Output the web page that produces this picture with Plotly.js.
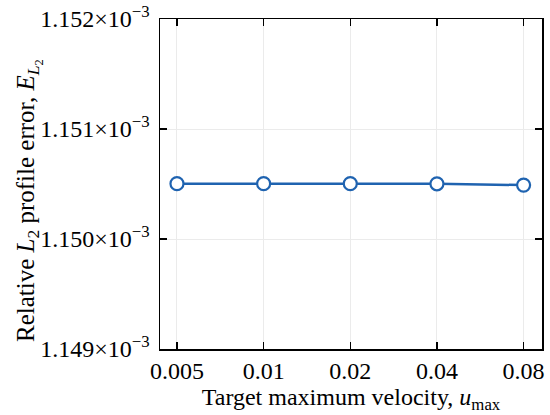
<!DOCTYPE html>
<html>
<head>
<meta charset="utf-8">
<script src="https://cdn.plot.ly/plotly-3.0.1.min.js"></script>
<style>html,body{margin:0;padding:0;background:#fff;}#chart{width:550px;height:415px;}</style>
</head>
<body>
<div id="chart"></div>
<script>
const velocities = [0.005, 0.01, 0.02, 0.04, 0.08];
const errors = [1.150503e-3, 1.150503e-3, 1.150503e-3, 1.150502e-3, 1.150490e-3];
const xTickLabels = ['0.005', '0.01', '0.02', '0.04', '0.08'];
const yTickVals = [1.149e-3, 1.150e-3, 1.151e-3, 1.152e-3];
const yTickLabels = ['1.149×10<sup>−3</sup>', '1.150×10<sup>−3</sup>', '1.151×10<sup>−3</sup>', '1.152×10<sup>−3</sup>'];
const xTitle = 'Target maximum velocity, <i>u</i><sub>max</sub>';
const yTitle = 'Relative <i>L</i><sub>2</sub> profile error, <i>E</i><sub><i>L</i><sub>2</sub></sub>';

const font = {family: 'Liberation Serif', size: 24, color: '#000'};
const yTitleFont = {family: 'Liberation Serif', size: 25, color: '#000'};

const trace = {
  x: velocities,
  y: errors,
  type: 'scatter',
  mode: 'lines+markers',
  line: {color: '#1f63b0', width: 2.5},
  marker: {size: 13, color: '#ffffff', line: {color: '#1f63b0', width: 2.2}},
  cliponaxis: false,
  hoverinfo: 'skip'
};

const axisCommon = {
  showline: true, linecolor: '#000', linewidth: 1.5, mirror: 'ticks',
  ticks: 'inside', ticklen: 7, tickwidth: 1.5, tickcolor: '#000',
  showgrid: true, gridcolor: '#ebebeb', gridwidth: 1,
  zeroline: false, tickfont: font
};

const layout = {
  width: 550, height: 415,
  margin: {l: 160, r: 8, t: 19, b: 66},
  paper_bgcolor: '#fff', plot_bgcolor: '#fff',
  showlegend: false,
  font: font,
  xaxis: Object.assign({}, axisCommon, {
    type: 'log',
    range: [-2.360, -1.033],
    tickvals: velocities,
    ticktext: xTickLabels,
    title: {text: xTitle, font: font, standoff: 4}
  }),
  yaxis: Object.assign({}, axisCommon, {
    range: [1.149e-3, 1.152e-3],
    tickvals: yTickVals,
    ticktext: yTickLabels,
    ticklabelstandoff: 4
  }),
  annotations: [{
    text: yTitle, font: yTitleFont, textangle: -90, showarrow: false,
    xref: 'paper', yref: 'paper', x: 0, y: 0.5,
    xanchor: 'center', yanchor: 'middle', xshift: -131, yshift: -17
  }]
};

Plotly.newPlot('chart', [trace], layout, {staticPlot: true, displayModeBar: false});
</script>
</body>
</html>
